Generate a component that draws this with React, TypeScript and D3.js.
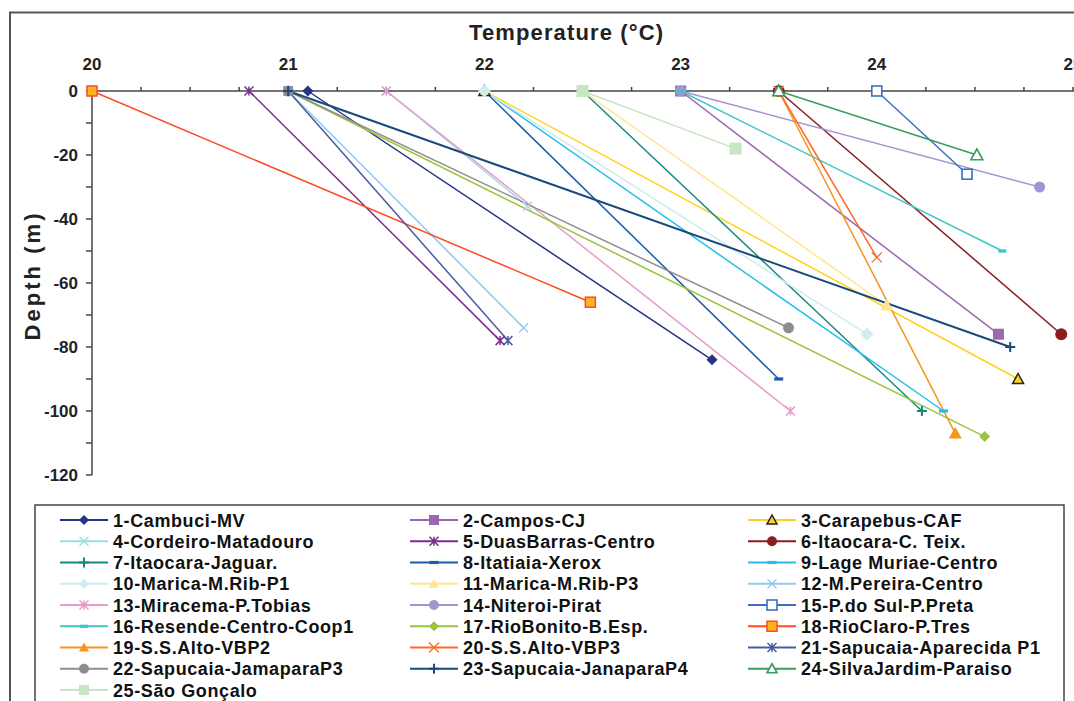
import * as d3 from "d3";

// station names (legend order)
const stations = [
  "1-Cambuci-MV", "2-Campos-CJ", "3-Carapebus-CAF",
  "4-Cordeiro-Matadouro", "5-DuasBarras-Centro", "6-Itaocara-C. Teix.",
  "7-Itaocara-Jaguar.", "8-Itatiaia-Xerox", "9-Lage Muriae-Centro",
  "10-Marica-M.Rib-P1", "11-Marica-M.Rib-P3", "12-M.Pereira-Centro",
  "13-Miracema-P.Tobias", "14-Niteroi-Pirat", "15-P.do Sul-P.Preta",
  "16-Resende-Centro-Coop1", "17-RioBonito-B.Esp.", "18-RioClaro-P.Tres",
  "19-S.S.Alto-VBP2", "20-S.S.Alto-VBP3", "21-Sapucaia-Aparecida P1",
  "22-Sapucaia-JamaparaP3", "23-Sapucaia-JanaparaP4", "24-SilvaJardim-Paraiso",
  "25-São Gonçalo",
];

// surface temperature (depth 0)
const surfaceTemp = [
  21.1, 23.0, 22.0, 21.5, 20.8, 23.5, 22.5, 22.0, 22.0, 22.0, 22.5, 21.0, 21.5,
  23.0, 24.0, 23.0, 21.0, 20.0, 23.5, 23.5, 21.0, 21.0, 21.0, 23.5, 22.5,
];
// bottom temperature
const bottomTemp = [
  23.16, 24.62, 24.72, 22.22, 22.08, 24.94, 24.23, 23.5, 24.34, 23.95, 24.05, 22.2, 23.56,
  24.83, 24.46, 24.64, 24.55, 22.54, 24.4, 24.0, 22.12, 23.55, 24.68, 24.51, 23.28,
];
// bottom depth (m)
const bottomDepth = [
  -84, -76, -90, -36, -78, -76, -100, -90, -100, -76, -67, -74, -100,
  -30, -26, -50, -108, -66, -107, -52, -78, -74, -80, -20, -18,
];

const xTicks = [20, 21, 22, 23, 24, 25];
const yTicks = [0, -20, -40, -60, -80, -100, -120];

type Mk = "diamond" | "square" | "triangle" | "x" | "star" | "circle" | "plus" | "dash" | "osquare" | "otriangle";
interface Sty { color: string; marker: Mk; fill?: string; stroke?: string; size: number; width?: number }

const STYLES: Sty[] = [
  { color: "#233482", marker: "diamond", size: 11 },
  { color: "#9a68ae", marker: "square", size: 11 },
  { color: "#ffd21e", marker: "triangle", fill: "#ffd21e", stroke: "#222", size: 11 },
  { color: "#9fdbe2", marker: "x", size: 9 },
  { color: "#7b2c91", marker: "star", size: 9 },
  { color: "#8b1d1d", marker: "circle", size: 12 },
  { color: "#168a80", marker: "plus", size: 10 },
  { color: "#1b5caa", marker: "dash", size: 9 },
  { color: "#26bdee", marker: "dash", size: 9 },
  { color: "#cfecee", marker: "diamond", size: 13 },
  { color: "#ffe68c", marker: "triangle", size: 13 },
  { color: "#92c9ef", marker: "x", size: 9 },
  { color: "#e89ac9", marker: "star", size: 9 },
  { color: "#a394d2", marker: "circle", size: 11 },
  { color: "#3d6fc4", marker: "osquare", size: 10 },
  { color: "#40c6c6", marker: "dash", size: 8 },
  { color: "#9cc53c", marker: "diamond", size: 11 },
  { color: "#ff4a26", marker: "square", fill: "#ffb320", stroke: "#ff4a26", size: 10 },
  { color: "#f7941d", marker: "triangle", size: 13 },
  { color: "#ff6a24", marker: "x", size: 10 },
  { color: "#4a5aa2", marker: "star", size: 9 },
  { color: "#8e8e8e", marker: "circle", size: 11 },
  { color: "#1a4a7c", marker: "plus", size: 10, width: 2 },
  { color: "#3a9c5e", marker: "otriangle", size: 12 },
  { color: "#c8e6c3", marker: "square", size: 12 },
];

const W = 1074;
const H = 701;
const x = d3.scaleLinear().domain([20, 25]).range([92, 1073]);
const y = d3.scaleLinear().domain([0, -120]).range([91, 475]);

const LEG_COLS = [60, 410, 748];
const LEG_ROW0 = 520;
const LEG_ROW = 21.25;

function Marker({ s, cx, cy }: { s: Sty; cx: number; cy: number }) {
  const r = s.size / 2;
  const fill = s.fill ?? s.color;
  const stroke = s.stroke ?? s.color;
  const t = `translate(${cx},${cy})`;
  switch (s.marker) {
    case "diamond":
      return <path transform={t} d={`M0,${-r}L${r},0L0,${r}L${-r},0Z`} fill={fill} />;
    case "square":
      return <rect x={cx - r} y={cy - r} width={s.size} height={s.size} fill={fill} stroke={stroke} strokeWidth={s.stroke ? 1.5 : 0} />;
    case "osquare":
      return <rect x={cx - r} y={cy - r} width={s.size} height={s.size} fill="#fff" stroke={s.color} strokeWidth={1.6} />;
    case "triangle":
      return <path transform={t} d={`M0,${-r}L${r},${r * 0.8}L${-r},${r * 0.8}Z`} fill={fill} stroke={s.stroke ?? "none"} strokeWidth={1.5} />;
    case "otriangle":
      return <path transform={t} d={`M0,${-r}L${r},${r * 0.8}L${-r},${r * 0.8}Z`} fill="#fff" stroke={s.color} strokeWidth={1.6} />;
    case "circle":
      return <circle cx={cx} cy={cy} r={r} fill={fill} />;
    case "x":
      return <path transform={t} d={`M${-r},${-r}L${r},${r}M${-r},${r}L${r},${-r}`} stroke={s.color} strokeWidth={1.3} fill="none" />;
    case "star":
      return <path transform={t} d={`M${-r},${-r}L${r},${r}M${-r},${r}L${r},${-r}M0,${-r}L0,${r}`} stroke={s.color} strokeWidth={1.5} fill="none" />;
    case "plus":
      return <path transform={t} d={`M${-r},0L${r},0M0,${-r}L0,${r}`} stroke={s.color} strokeWidth={2} fill="none" />;
    case "dash":
      return <rect x={cx - r} y={cy - 1.6} width={s.size} height={3.2} fill={s.color} />;
  }
  return null;
}

export default function App() {
  const line = d3.line<[number, number]>().x((d) => x(d[0])).y((d) => y(d[1]));
  const minorX = d3.range(20, 25.01, 0.25);
  const minorY = d3.range(0, -121, -10);
  const font = "'Liberation Sans', Arial, sans-serif";

  return (
    <svg width={W} height={H} style={{ position: "fixed", left: 0, top: 0, background: "#fff" }}>
      {/* chart frame */}
      <rect x={10} y={12.5} width={W + 20} height={H + 20} fill="none" stroke="#555" strokeWidth={2} />

      {/* title */}
      <text x={566} y={40} textAnchor="middle" fontFamily={font} fontWeight="bold" fontSize={22}
        fill="#222" textLength={194} lengthAdjust="spacing">Temperature (°C)</text>
      <text transform="translate(40,277) rotate(-90)" textAnchor="middle" fontFamily={font}
        fontWeight="bold" fontSize={22} fill="#222" textLength={127} lengthAdjust="spacing">Depth (m)</text>

      {/* x axis (top) */}
      <line x1={x(20)} x2={W} y1={y(0)} y2={y(0)} stroke="#444" strokeWidth={1.5} />
      {minorX.map((v) => (
        <line key={v} x1={x(v)} x2={x(v)} y1={y(0)} y2={y(0) - 4} stroke="#444" strokeWidth={1.5} />
      ))}
      {xTicks.map((v) => (
        <text key={v} x={x(v)} y={70} textAnchor="middle" fontFamily={font} fontWeight="bold"
          fontSize={17} fill="#222">{v}</text>
      ))}

      {/* y axis */}
      <line x1={x(20)} x2={x(20)} y1={y(0)} y2={y(-120)} stroke="#444" strokeWidth={1.5} />
      {minorY.map((v) => (
        <line key={v} x1={x(20) - 6} x2={x(20)} y1={y(v)} y2={y(v)} stroke="#444" strokeWidth={1.5} />
      ))}
      {yTicks.map((v) => (
        <text key={v} x={78} y={y(v) + 6} textAnchor="end" fontFamily={font} fontWeight="bold"
          fontSize={17} fill="#222">{v}</text>
      ))}

      {/* series */}
      {stations.map((n, i) => (
        <path key={n} d={line([[surfaceTemp[i], 0], [bottomTemp[i], bottomDepth[i]]]) ?? ""}
          stroke={STYLES[i].color} strokeWidth={STYLES[i].width ?? 1.5} fill="none" />
      ))}
      {stations.map((n, i) => (
        <g key={n}>
          <Marker s={STYLES[i]} cx={x(surfaceTemp[i])} cy={y(0)} />
          <Marker s={STYLES[i]} cx={x(bottomTemp[i])} cy={y(bottomDepth[i])} />
        </g>
      ))}

      {/* legend */}
      <rect x={35} y={505} width={1029} height={220} fill="#fff" stroke="#444" strokeWidth={1.5} />
      {stations.map((n, i) => {
        const lx = LEG_COLS[i % 3];
        const ly = LEG_ROW0 + Math.floor(i / 3) * LEG_ROW;
        const s = STYLES[i];
        return (
          <g key={n}>
            <line x1={lx} x2={lx + 48} y1={ly} y2={ly} stroke={s.color} strokeWidth={2} />
            <Marker s={{ ...s, size: Math.min(s.size, 10) }} cx={lx + 24} cy={ly} />
            <text x={lx + 53} y={ly + 6.5} fontFamily={font} fontWeight="bold" fontSize={18}
              letterSpacing={0.6} fill="#111">{n}</text>
          </g>
        );
      })}
    </svg>
  );
}
